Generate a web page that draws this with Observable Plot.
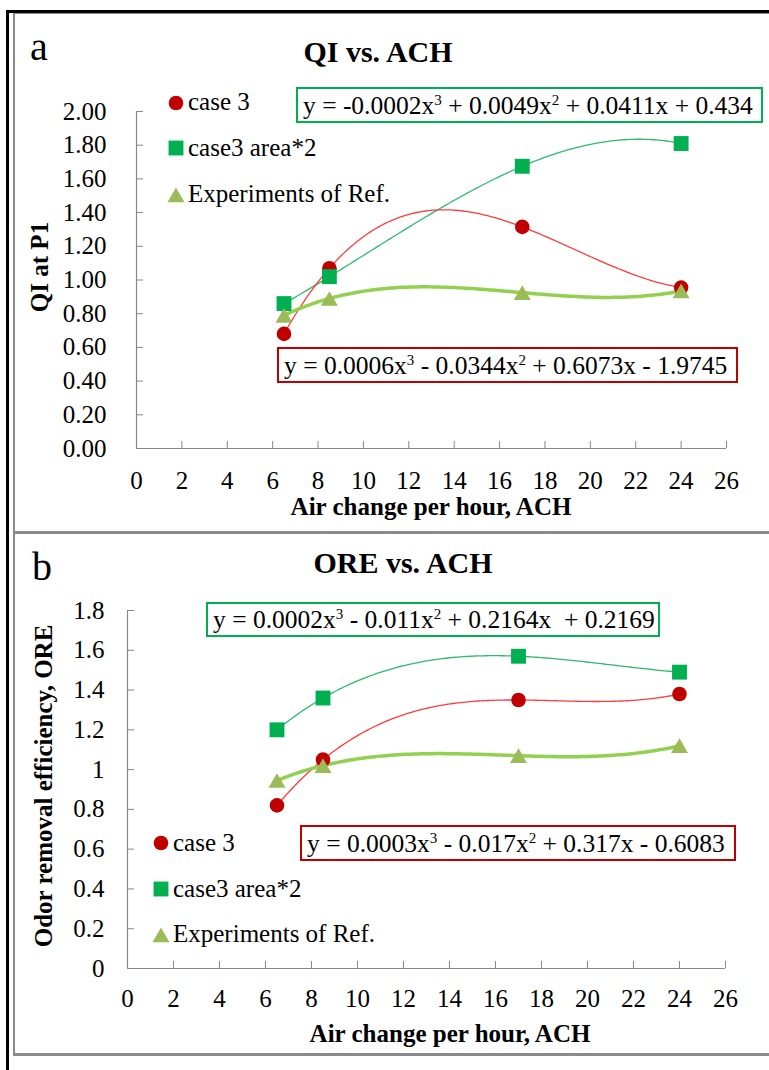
<!DOCTYPE html>
<html>
<head>
<meta charset="utf-8">
<script src="https://cdn.jsdelivr.net/npm/d3@7"></script>
<script src="https://cdn.jsdelivr.net/npm/@observablehq/plot@0.6"></script>
<style>
  html, body { margin: 0; padding: 0; background: #fff; }
  #page { position: relative; width: 769px; height: 1070px; overflow: hidden; background: #fff;
          font-family: "Liberation Serif", "Times New Roman", serif; color: #000; }
  .plot { position: absolute; left: 0; }
  .line { position: absolute; }
  #overlay { position: absolute; left: 0; top: 0; }
</style>
</head>
<body>
<div id="page"></div>
<script>
// ---------------- data ----------------
const ach = [6.5, 8.5, 17, 24];

const qiCase3 = [0.68, 1.07, 1.315, 0.955];
const qiArea2 = [0.86, 1.02, 1.675, 1.81];
const qiExp   = [0.79, 0.89, 0.925, 0.935];

const oreCase3 = [0.82, 1.05, 1.35, 1.38];
const oreArea2 = [1.20, 1.36, 1.57, 1.49];
const oreExp   = [0.945, 1.02, 1.07, 1.12];

const seriesNames = ["case 3", "case3 area*2", "Experiments of Ref."];

const xTicks = [0, 2, 4, 6, 8, 10, 12, 14, 16, 18, 20, 22, 24, 26];
const qiTicks = [0, 0.2, 0.4, 0.6, 0.8, 1.0, 1.2, 1.4, 1.6, 1.8, 2.0];
const oreTicks = [0, 0.2, 0.4, 0.6, 0.8, 1, 1.2, 1.4, 1.6, 1.8];

const panelTitles = ["QI vs. ACH", "ORE vs. ACH"];
const panelLetters = ["a", "b"];
const xTitle = "Air change per hour, ACH";
const yTitles = ["QI at P1", "Odor removal efficiency, ORE"];

// equations: [text parts], superscripts marked
const eqQiArea2 = ["y = -0.0002x", "3", " + 0.0049x", "2", " + 0.0411x + 0.434"];
const eqQiCase3 = ["y = 0.0006x", "3", " - 0.0344x", "2", " + 0.6073x - 1.9745"];
const eqOreArea2 = ["y = 0.0002x", "3", " - 0.011x", "2", " + 0.2164x  + 0.2169"];
const eqOreCase3 = ["y = 0.0003x", "3", " - 0.017x", "2", " + 0.317x - 0.6083"];

// ---------------- style ----------------
const RED = "#c00000", RED_LINE = "#ff3b3b";
const GREEN = "#00b050", GREEN_LINE = "#2fba6c";
const OLIVE = "#9bbb59", OLIVE_LINE = "#92d050";
const AXIS = "#878787";
const FONT = "Liberation Serif, Times New Roman, serif";

// cubic polynomial trendline (least squares, like a spreadsheet trendline)
function polyfit3(xs, ys) {
  const c = 15, s = 10;
  const n = 4;
  const A = Array.from({length: n}, () => Array(n + 1).fill(0));
  xs.forEach((x, k) => {
    const t = (x - c) / s;
    const p = [1, t, t * t, t * t * t];
    for (let i = 0; i < n; i++) {
      for (let j = 0; j < n; j++) A[i][j] += p[i] * p[j];
      A[i][n] += p[i] * ys[k];
    }
  });
  for (let i = 0; i < n; i++) {
    let m = i;
    for (let r = i + 1; r < n; r++) if (Math.abs(A[r][i]) > Math.abs(A[m][i])) m = r;
    [A[i], A[m]] = [A[m], A[i]];
    for (let r = 0; r < n; r++) {
      if (r === i) continue;
      const f = A[r][i] / A[i][i];
      for (let col = i; col <= n; col++) A[r][col] -= f * A[i][col];
    }
  }
  const coef = A.map((row, i) => row[n] / row[i]);
  return x => { const t = (x - c) / s; return coef[0] + coef[1] * t + coef[2] * t * t + coef[3] * t * t * t; };
}
function trend(xs, ys) {
  const f = polyfit3(xs, ys);
  const x0 = d3.min(xs), x1 = d3.max(xs);
  return d3.range(0, 161).map(i => { const x = x0 + (x1 - x0) * i / 160; return {x, y: f(x)}; });
}
const pts = ys => ach.map((x, i) => ({x, y: ys[i]}));

function makePanel({case3, area2, exp, yTicks, yFormat, yMax, top, height, mL, mR, mT, mB, xPad, yPad}) {
  const svg = Plot.plot({
    width: 769, height,
    marginLeft: mL, marginRight: mR, marginTop: mT, marginBottom: mB,
    style: {fontFamily: FONT, fontSize: "25px", background: "transparent", overflow: "visible", color: "#000"},
    x: {domain: [0, 26], label: null},
    y: {domain: [0, yMax], label: null},
    marks: [
      Plot.ruleY([0], {stroke: AXIS, strokeWidth: 1.2}),
      Plot.ruleX([0], {stroke: AXIS, strokeWidth: 1.2}),
      Plot.axisX({ticks: xTicks, tickSize: -7, tickPadding: xPad, stroke: AXIS, tickFormat: d => String(d)}),
      Plot.axisY({ticks: yTicks, tickSize: -7, tickPadding: yPad, stroke: AXIS, tickFormat: yFormat}),
      Plot.line(trend(ach, area2), {x: "x", y: "y", stroke: GREEN_LINE, strokeWidth: 1.3}),
      Plot.line(trend(ach, case3), {x: "x", y: "y", stroke: RED_LINE, strokeWidth: 1.3}),
      Plot.line(trend(ach, exp), {x: "x", y: "y", stroke: OLIVE_LINE, strokeWidth: 3.5}),
      Plot.dot(pts(case3), {x: "x", y: "y", r: 7.3, fill: RED, symbol: "circle"}),
      Plot.dot(pts(area2), {x: "x", y: "y", r: 8.4, fill: GREEN, symbol: "square"}),
      Plot.dot(pts(exp), {x: "x", y: "y", r: 6.3, dy: 2.4, fill: OLIVE, symbol: "triangle"})
    ]
  });
  svg.classList.add("plot");
  svg.style.top = top + "px";
  svg.style.position = "absolute";
  document.getElementById("page").appendChild(svg);
}

makePanel({case3: qiCase3, area2: qiArea2, exp: qiExp, yTicks: qiTicks, yFormat: d3.format(".2f"), yMax: 2,
           top: 0, height: 532, mL: 136, mR: 43, mT: 111, mB: 84, xPad: 30, yPad: 37});
makePanel({case3: oreCase3, area2: oreArea2, exp: oreExp, yTicks: oreTicks, yFormat: d => String(d), yMax: 1.8,
           top: 533, height: 537, mL: 127, mR: 44, mT: 77, mB: 102, xPad: 28, yPad: 30});

// ---------------- frame lines ----------------
const page = document.getElementById("page");
function box(l, t, w, h, c) {
  const d = document.createElement("div");
  d.className = "line";
  Object.assign(d.style, {left: l + "px", top: t + "px", width: w + "px", height: h + "px", background: c});
  page.appendChild(d);
}
box(13, 13, 756, 1, "#8a8a8a");
box(13, 13, 2, 1043, "#8a8a8a");
box(13, 531, 756, 3, "#8a8a8a");
box(13, 1053, 756, 3, "#8a8a8a");
box(6, 10, 763, 3, "#000");
box(6, 10, 3, 1060, "#000");

// ---------------- overlay text, legends, equations ----------------
const ov = d3.select(page).append("svg").attr("id", "overlay")
  .attr("width", 769).attr("height", 1070)
  .style("font-family", FONT);

function txt(x, y, s, size, opts = {}) {
  const t = ov.append("text").attr("x", x).attr("y", y).attr("font-size", size).attr("fill", "#000").text(s);
  if (opts.bold) t.attr("font-weight", "bold");
  if (opts.anchor) t.attr("text-anchor", opts.anchor);
  if (opts.transform) t.attr("transform", opts.transform).attr("x", 0).attr("y", 0);
  return t;
}

// panel letters & titles
txt(30, 60, panelLetters[0], 40);
txt(32, 580, panelLetters[1], 40);
txt(378, 62, panelTitles[0], 30, {bold: true, anchor: "middle"});
txt(403, 573, panelTitles[1], 30, {bold: true, anchor: "middle"});

// axis titles
txt(0, 0, xTitle, 25, {bold: true, anchor: "middle", transform: "translate(431,515)"});
txt(0, 0, xTitle, 25, {bold: true, anchor: "middle", transform: "translate(450,1042)"});
txt(0, 0, yTitles[0], 25, {bold: true, anchor: "middle", transform: "translate(48,267) rotate(-90)"});
txt(0, 0, yTitles[1], 25, {bold: true, anchor: "middle", transform: "translate(51.5,786) rotate(-90)"});

// legends
function legend(mx, tx, rows) {
  const syms = [d3.symbolCircle, d3.symbolSquare, d3.symbolTriangle];
  const sizes = [Math.PI * 7.3 * 7.3, Math.PI * 8.4 * 8.4, Math.PI * 6.3 * 6.3];
  const cols = [RED, GREEN, OLIVE];
  const offs = [0, 0, 2.4];
  rows.forEach((r, i) => {
    ov.append("path").attr("d", d3.symbol(syms[i], sizes[i])())
      .attr("transform", `translate(${mx},${r.m + offs[i]})`).attr("fill", cols[i]);
    txt(tx, r.b, seriesNames[i], 25);
  });
}
legend(176, 188, [{m: 103, b: 110}, {m: 148, b: 155.5}, {m: 195, b: 201.5}]);
legend(161, 173, [{m: 843, b: 851}, {m: 889, b: 897}, {m: 935, b: 942}]);

// equation boxes
function eq(l, t, w, h, color, parts) {
  ov.append("rect").attr("x", l + 1).attr("y", t + 1).attr("width", w - 2).attr("height", h - 2)
    .attr("fill", "none").attr("stroke", color).attr("stroke-width", 2);
  const t0 = ov.append("text").attr("x", l + 7).attr("y", t + h / 2 + 8.5)
    .attr("font-size", 25.5).attr("fill", "#000").style("white-space", "pre");
  parts.forEach((p, i) => {
    const sup = i % 2 === 1;
    const ts = t0.append("tspan").text(p);
    if (sup) ts.attr("font-size", 15).attr("dy", -9);
    else if (i > 0) ts.attr("dy", 9);
  });
}
eq(296, 87, 467, 36, GREEN, eqQiArea2);
eq(277, 347, 461, 36, RED, eqQiCase3);
eq(206, 602, 454, 35, GREEN, eqOreArea2);
eq(300, 825, 436, 36, RED, eqOreCase3);
</script>
</body>
</html>
